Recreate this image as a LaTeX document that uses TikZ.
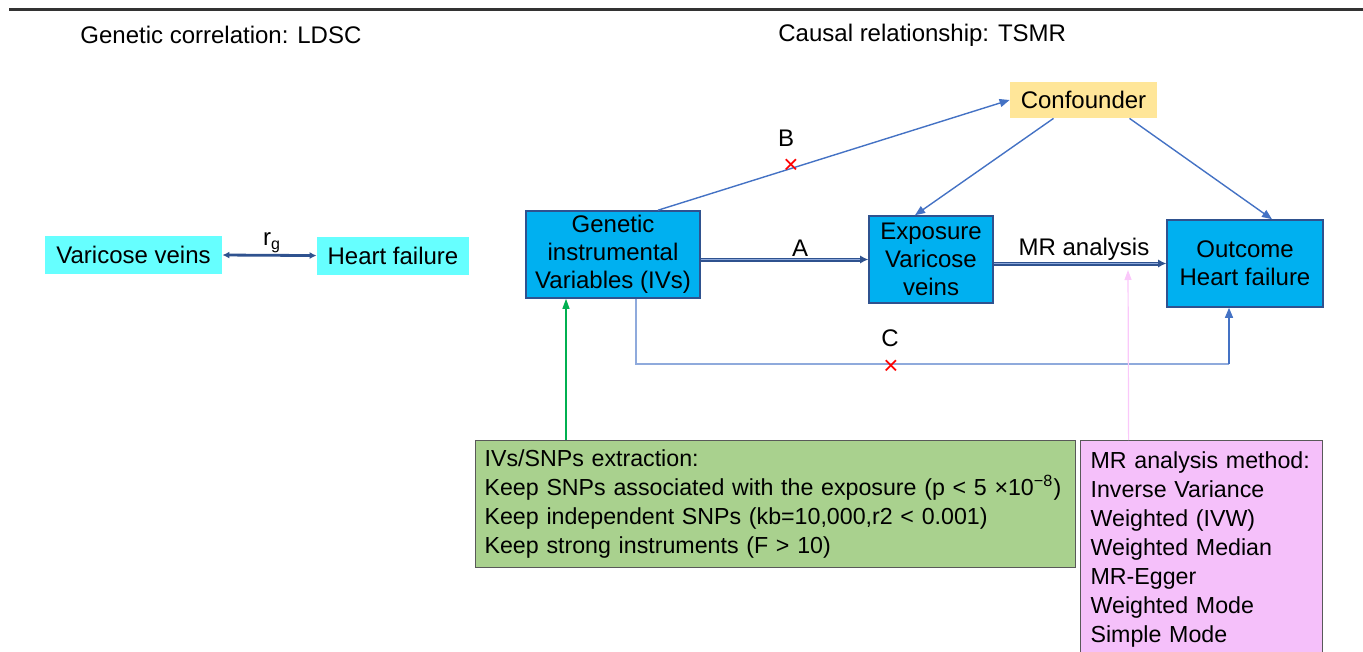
\documentclass[tikz,border=0pt]{standalone}
\usepackage{fontspec}
\setmainfont{Liberation Sans}
\usepackage{tikz}
\usetikzlibrary{arrows.meta,positioning,calc}
\definecolor{traitcyan}{RGB}{102,255,255}
\definecolor{boxblue}{RGB}{0,176,240}
\definecolor{edgeblue}{RGB}{47,82,143}
\definecolor{linkblue}{RGB}{68,114,196}
\definecolor{paleblue}{RGB}{143,170,220}
\definecolor{confyellow}{RGB}{255,230,153}
\definecolor{snpgreen}{RGB}{169,209,142}
\definecolor{leafgreen}{RGB}{0,176,80}
\definecolor{mrpink}{RGB}{245,192,250}
\definecolor{mrline}{RGB}{250,200,250}
\tikzset{
	>=Latex,
	lbl/.style={
		font=\fontsize{12}{14}\selectfont,
		inner sep=0pt
	},
	trait/.style={
		lbl,
		fill=traitcyan,
		minimum height=19pt
	},
	mrbox/.style={
		lbl,
		draw=edgeblue,
		line width=0.8pt,
		fill=boxblue,
		align=center,
		minimum height=43.5pt
	},
	notebox/.style={
		lbl,
		draw=black!65,
		line width=0.6pt,
		align=left,
		anchor=north west,
		inner xsep=4.5pt,
		font=\fontsize{11.6}{14.5}\selectfont
	},
	conn/.style={
		-{Triangle[length=5pt,width=4pt]},
		draw=linkblue,
		line width=0.7pt
	},
	thick conn/.style={
		-{Latex[length=4pt,width=4pt]},
		draw=edgeblue,
		double=linkblue!60,
		double distance=0.9pt,
		line width=0.55pt
	},
	nocause/.style={
		text=red,
		inner sep=0pt,
		font=\fontsize{13}{13}\selectfont
	}
}
\begin{document}
\begin{tikzpicture}[x=0.5pt,y=-0.5pt]
	\useasboundingbox (0,0) rectangle (1363,652);
	
	% Header
	\draw[line width=1.5pt,black!80] (9,10) -- (1363,10);
	\node[lbl,anchor=west] (ldsc) at (80,35) {Genetic correlation: LDSC};
	\node[lbl,anchor=west] (tsmr) at (778,35) {Causal relationship: TSMR};
	
	% LDSC
	\node[trait,minimum width=88.5pt] (vv) at (133.5,254.5) {Varicose veins};
	\node[trait,minimum width=76pt] (hf) at (393,256) {Heart failure};
	\node[lbl] (rg) at (272,243) {r\textsubscript{g}};
	\draw[{Latex[length=3.5pt,width=3.5pt]}-{Latex[length=3.5pt,width=3.5pt]},edgeblue,line width=1.4pt] (vv) -- (hf);
	
	% TSMR nodes
	\node[mrbox,minimum width=87pt] (iv) at (613,254.5) {Genetic\\instrumental\\Variables (IVs)};
	\node[mrbox,minimum width=62pt] (exp) at (931,259.5) {Exposure\\Varicose\\veins};
	\node[mrbox,minimum width=78pt] (out) at (1245,263.5) {Outcome\\Heart failure};
	\node[lbl,fill=confyellow,minimum width=73.5pt,minimum height=18pt] (conf) at (1083.5,100) {Confounder};
	
	\node[notebox,fill=snpgreen,text width=291pt,minimum height=63.5pt] (snp) at (475,440)
	{IVs/SNPs extraction:\\
		Keep SNPs associated with the exposure (p < 5 ×10\textsuperscript{−8})\\
		Keep independent SNPs (kb=10,000,r2 < 0.001)\\
		Keep strong instruments (F > 10)};
	\node[notebox,fill=mrpink,text width=111pt,inner xsep=5pt,minimum height=109pt] (method) at (1080,440)
	{MR analysis method:\\
		Inverse Variance\\
		Weighted (IVW)\\
		Weighted Median\\
		MR-Egger\\
		Weighted Mode\\
		Simple Mode};
	
	% Connections
	\draw[thick conn] (iv.east |- exp.west) -- (exp.west);
	\draw[thick conn] (exp.east |- out.west) -- (out.west);
	\draw[conn] ([xshift=22.5pt]iv.north) -- (conf.west);
	\draw[conn] ([xshift=-15pt]conf.south) -- ([xshift=-8pt]exp.north);
	\draw[conn] ([xshift=23pt]conf.south) -- ([xshift=13.5pt]out.north);
	
	\coordinate (cbend) at (1229,364);
	\draw[paleblue,line width=0.7pt] ([xshift=11.5pt]iv.south) |- (cbend);
	\draw[conn] (cbend) -- ([xshift=-8pt]out.south);
	
	\draw[-{Triangle[length=5pt,width=3.5pt]},leafgreen,line width=0.6pt] ([xshift=-23.5pt]iv.south |- snp.north) -- ([xshift=-23.5pt]iv.south);
	\coordinate (mrtip) at (1128,270);
	\draw[-{Triangle[length=5pt,width=3.5pt]},mrline,line width=0.6pt] ([xshift=-36.5pt]method.north) -- (mrtip);
	
	% Annotations
	\node[lbl] (pathA) at (800,248) {A};
	\node[lbl] (pathB) at (786,138) {B};
	\node[lbl] (pathC) at (890,338) {C};
	\node[lbl] (mra) at (1084,249) {MR analysis};
	\node[nocause] (xB) at (791,166) {×};
	\node[nocause] (xC) at (891,367) {×};
	
\end{tikzpicture}
\end{document}
